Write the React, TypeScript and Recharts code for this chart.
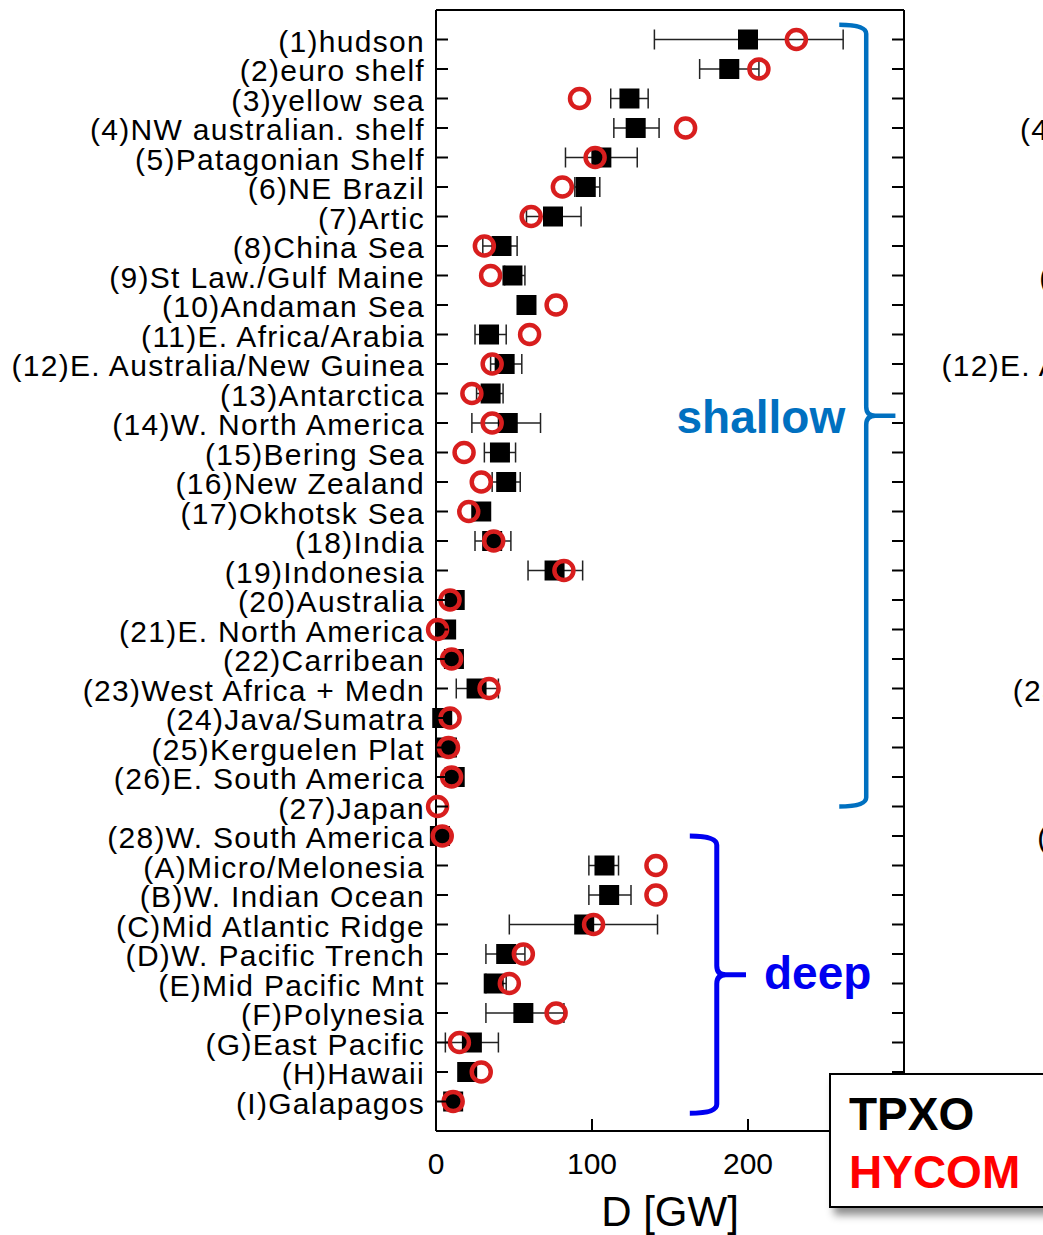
import { ScatterChart, Scatter, XAxis, YAxis, ErrorBar, ReferenceArea } from "recharts";

const FONT = "'Liberation Sans', Arial, Helvetica, sans-serif";

// regions, top to bottom (shallow 1-28, deep A-I)
const regions = [
  "(1)hudson",
  "(2)euro shelf",
  "(3)yellow sea",
  "(4)NW australian. shelf",
  "(5)Patagonian Shelf",
  "(6)NE Brazil",
  "(7)Artic",
  "(8)China Sea",
  "(9)St Law./Gulf Maine",
  "(10)Andaman Sea",
  "(11)E. Africa/Arabia",
  "(12)E. Australia/New Guinea",
  "(13)Antarctica",
  "(14)W. North America",
  "(15)Bering Sea",
  "(16)New Zealand",
  "(17)Okhotsk Sea",
  "(18)India",
  "(19)Indonesia",
  "(20)Australia",
  "(21)E. North America",
  "(22)Carribean",
  "(23)West Africa + Medn",
  "(24)Java/Sumatra",
  "(25)Kerguelen Plat",
  "(26)E. South America",
  "(27)Japan",
  "(28)W. South America",
  "(A)Micro/Melonesia",
  "(B)W. Indian Ocean",
  "(C)Mid Atlantic Ridge",
  "(D)W. Pacific Trench",
  "(E)Mid Pacific Mnt",
  "(F)Polynesia",
  "(G)East Pacific",
  "(H)Hawaii",
  "(I)Galapagos",
];

// dissipation D [GW]
const tpxo = [
  200, 188, 124, 128, 106, 96, 75, 42, 49, 58, 34, 44, 35, 46, 41, 45, 29, 36, 76,
  12, 6.5, 11.5, 26, 4, 7, 12, null, 2.5,
  108, 111, 95, 45, 37, 56, 23, 20, 11,
];
const hycom = [
  231, 207, 92, 160, 102, 81, 61, 31, 35, 77, 60, 36, 23, 36, 18, 29, 21, 37, 82,
  9, 1, 10, 34, 9, 8, 10, 1, 4,
  141, 141, 101, 56, 47, 77, 15, 29, 11,
];
// TPXO error range (null = no bar)
const tpxoLow = [
  140, 169, 112, 114, 83, 89, 58, 30, 44, null, 25, 35, 26, 23, 31, 36, null, 25, 59,
  null, null, null, 13, null, null, null, null, null,
  98, 98, 47, 32, 32, 32, 6, null, null,
];
const tpxoHigh = [
  261, 207, 136, 143, 129, 105, 93, 52, 57, null, 45, 55, 43, 67, 51, 54, null, 48, 94,
  null, null, null, 40, null, null, null, null, null,
  117, 125, 142, 57, 45, 82, 40, null, null,
];

// rows of the neighbouring panel whose long labels reach into view
const nextPanelRows = [4, 9, 12, 23, 28];

const xTicks = [0, 100, 200];
const topTicks = [100, 200];
const rowTicks = regions.map((_, i) => i + 1);

const tpxoPoints = regions
  .map((_, i) => ({
    x: tpxo[i],
    y: i + 1,
    err: tpxoLow[i] == null || tpxo[i] == null ? undefined : [tpxo[i] - tpxoLow[i], tpxoHigh[i] - tpxo[i]],
  }))
  .filter((p) => p.x != null);
const hycomPoints = regions.map((_, i) => ({ x: hycom[i], y: i + 1 }));

const SquareMark = (p: any) => (
  <rect x={p.cx - 10} y={p.cy - 10} width={20} height={20} fill="#000" />
);
const RingMark = (p: any) => (
  <circle cx={p.cx} cy={p.cy} r={9.5} fill="none" stroke="#d81e1e" strokeWidth={4.5} />
);

const labelStyle = { fontSize: 30, fontFamily: FONT, letterSpacing: 1.3 };

// row label plus inner ticks on both frame sides
function RowTick({ x, y, payload }: any) {
  const left = x + 11;
  const right = left + 468;
  const name = regions[payload.value - 1];
  return (
    <g>
      <line x1={left} x2={left + 12} y1={y} y2={y} stroke="#000" strokeWidth={2} />
      <line x1={right - 12} x2={right} y1={y} y2={y} stroke="#000" strokeWidth={2} />
      <text x={x} y={y + 12} textAnchor="end" fill="#000" style={labelStyle}>
        {name}
      </text>
      {nextPanelRows.includes(payload.value) && (
        <text x={x + 930} y={y + 12} textAnchor="end" fill="#000" style={labelStyle}>
          {name}
        </text>
      )}
    </g>
  );
}

function BottomTick({ x, y, payload }: any) {
  return (
    <g>
      {payload.value > 0 && <line x1={x} x2={x} y1={y} y2={y - 12} stroke="#000" strokeWidth={2} />}
      <text x={x} y={y + 43} textAnchor="middle" fill="#000" style={{ fontSize: 30, fontFamily: FONT }}>
        {payload.value}
      </text>
    </g>
  );
}

function TopTick({ x, y }: any) {
  return <line x1={x} x2={x} y1={y} y2={y + 12} stroke="#000" strokeWidth={2} />;
}

// curly bracket drawn inside the reference area box
function brace(color: string, label: string, side: "left" | "right", sw: number) {
  return ({ x, y, width, height }: any) => {
    const spine = x + width * 0.48;
    const tip = x + width;
    const mid = y + height / 2;
    const bottom = y + height;
    const r = 9;
    const d =
      `M${x},${y} Q${spine},${y} ${spine},${y + r} L${spine},${mid - r} ` +
      `Q${spine},${mid} ${spine + r},${mid} L${tip},${mid} ` +
      `M${spine + r},${mid} Q${spine},${mid} ${spine},${mid + r} ` +
      `L${spine},${bottom - r} Q${spine},${bottom} ${x},${bottom}`;
    return (
      <g>
        <path d={d} fill="none" stroke={color} strokeWidth={sw} />
        <text
          x={side === "left" ? spine - 21 : tip + 18}
          y={mid + (side === "left" ? 17 : 14)}
          textAnchor={side === "left" ? "end" : "start"}
          fill={color}
          style={{ fontSize: 46, fontWeight: "bold", fontFamily: FONT }}
        >
          {label}
        </text>
      </g>
    );
  };
}

export default function App() {
  return (
    <div
      style={{
        position: "absolute",
        left: 0,
        top: 0,
        width: 1043,
        height: 1235,
        overflow: "hidden",
        background: "#fff",
        fontFamily: FONT,
      }}
    >
      <ScatterChart width={1043} height={1235} margin={{ top: 0, right: 0, bottom: 0, left: 0 }}>
        <XAxis
          type="number"
          dataKey="x"
          domain={[0, 300]}
          ticks={xTicks}
          interval={0}
          height={104}
          tickSize={0}
          tickMargin={0}
          axisLine={{ stroke: "#000", strokeWidth: 2 }}
          tick={(p: any) => <BottomTick {...p} />}
          label={(p: any) => {
            const vb = p.viewBox;
            return (
              <text
                x={vb.x + vb.width / 2}
                y={vb.y + 95}
                textAnchor="middle"
                fill="#000"
                style={{ fontSize: 42, fontFamily: FONT }}
              >
                D [GW]
              </text>
            );
          }}
        />
        <XAxis
          xAxisId="top"
          orientation="top"
          type="number"
          domain={[0, 300]}
          ticks={topTicks}
          interval={0}
          height={10}
          tickSize={0}
          tickMargin={0}
          axisLine={{ stroke: "#000", strokeWidth: 2 }}
          tick={(p: any) => <TopTick {...p} />}
        />
        <YAxis
          type="number"
          dataKey="y"
          domain={[0, 38]}
          reversed
          ticks={rowTicks}
          interval={0}
          width={436}
          tickSize={0}
          tickMargin={11}
          axisLine={{ stroke: "#000", strokeWidth: 2 }}
          tick={(p: any) => <RowTick {...p} />}
        />
        <YAxis
          yAxisId="right"
          orientation="right"
          type="number"
          domain={[0, 38]}
          reversed
          width={139}
          tick={false}
          tickLine={false}
          axisLine={{ stroke: "#000", strokeWidth: 2 }}
        />
        <ReferenceArea
          x1={258.5}
          x2={294.5}
          y1={0.5}
          y2={27}
          shape={brace("#0070c0", "shallow", "left", 4.5)}
        />
        <ReferenceArea
          x1={162.7}
          x2={198.7}
          y1={28}
          y2={37.4}
          shape={brace("#0000f0", "deep", "right", 5)}
        />
        <Scatter name="TPXO" data={tpxoPoints} shape={SquareMark} isAnimationActive={false}>
          <ErrorBar dataKey="err" direction="x" width={10} stroke="#222" strokeWidth={1.5} />
        </Scatter>
        <Scatter name="HYCOM" data={hycomPoints} shape={RingMark} isAnimationActive={false} />
      </ScatterChart>
      <div
        style={{
          position: "absolute",
          left: 829,
          top: 1073,
          width: 250,
          height: 131,
          border: "2px solid #000",
          background: "#fff",
          boxShadow: "5px 7px 8px rgba(0,0,0,0.45)",
          fontWeight: "bold",
          fontSize: 46,
          lineHeight: "46px",
        }}
      >
        <div style={{ position: "absolute", left: 18, top: 16, color: "#000" }}>TPXO</div>
        <div style={{ position: "absolute", left: 18, top: 74, color: "#ff0000" }}>HYCOM</div>
      </div>
    </div>
  );
}
